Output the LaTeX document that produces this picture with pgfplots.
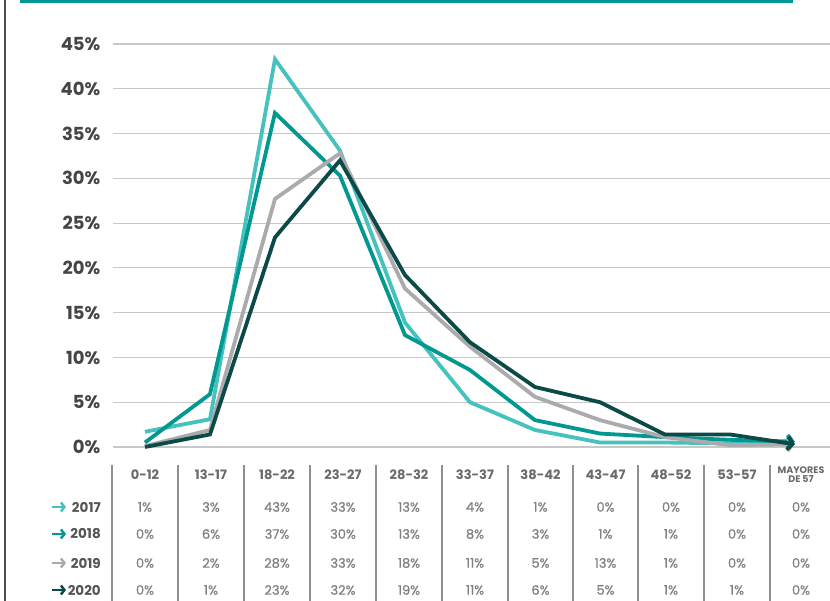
\documentclass[border=0pt]{standalone}
\usepackage{pgfplots}
\pgfplotsset{compat=1.18}
\usepackage{fontspec}
\setmainfont{Poppins}
\newfontfamily\valfont{Poppins}[FakeBold=0.8]
\usetikzlibrary{arrows.meta}
\definecolor{c17}{HTML}{45C1BE}
\definecolor{c18}{HTML}{009890}
\definecolor{c19}{HTML}{ABABAE}
\definecolor{c20}{HTML}{0C4A47}
\definecolor{topline}{HTML}{009890}
\definecolor{leftgray}{HTML}{4D4D4D}
\definecolor{gridgray}{HTML}{C8C8C8}
\definecolor{ticktext}{HTML}{454545}
\definecolor{headtext}{HTML}{6A6A6A}
\definecolor{valtext}{HTML}{808080}
\definecolor{yeartext}{HTML}{555555}
\definecolor{sepgray}{HTML}{8F8F8F}
\begin{document}
\begin{tikzpicture}
\path[use as bounding box] (0pt,0pt) rectangle (830pt,601pt);
\draw[line width=2.5pt, leftgray] (5pt,0pt) -- (5pt,601pt);
\draw[line width=3pt, topline] (20pt,599.5pt) -- (793pt,599.5pt);
\begin{axis}[
  at={(112.5pt,154pt)}, anchor=south west,
  scale only axis, width=717.5pt, height=403pt,
  xmin=-0.5, xmax=10.54, ymin=0, ymax=45,
  axis line style={draw=none},
  major tick length=0pt,
  xtick=\empty,
  ytick={0,5,10,15,20,25,30,35,40,45},
  yticklabels={0\%,5\%,10\%,15\%,20\%,25\%,30\%,35\%,40\%,45\%},
  yticklabel style={font=\bfseries\fontsize{18}{18}\selectfont, text=ticktext, inner sep=0pt, xshift=-12pt},
  ymajorgrids, grid style={gridgray, line width=1.2pt},
  clip=false,
  every axis plot/.append style={line width=3.8pt, -{Straight Barb[length=5pt,width=13pt]}},
]
\addplot[c17] coordinates {
(0,1.7) (1,3.1) (2,43.3) (3,33.1) (4,13.9) (5,5.0) (6,1.9) (7,0.5) (8,0.5) (9,0.4) (10,0.4)};
\addplot[c18] coordinates {
(0,0.5) (1,5.9) (2,37.3) (3,30.3) (4,12.5) (5,8.6) (6,3.0) (7,1.5) (8,1.1) (9,0.8) (10,0.6)};
\addplot[c19] coordinates {
(0,0.1) (1,1.9) (2,27.7) (3,32.8) (4,17.7) (5,11.2) (6,5.6) (7,3.0) (8,1.1) (9,0.2) (10,0.3)};
\addplot[c20] coordinates {
(0,0.0) (1,1.4) (2,23.4) (3,32.0) (4,19.2) (5,11.7) (6,6.7) (7,5.0) (8,1.4) (9,1.4) (10,0.3)};
\end{axis}
% table separators
\foreach \s in {112,178,244,310,376,442,508,573,638,704,770}
  \draw[sepgray, line width=1.2pt] (\s pt,136pt) -- (\s pt,0pt);
% headers
\foreach \x/\t in {145/0-12,211/13-17,277/18-22,343/23-27,409/28-32,475/33-37,540.5/38-42,605.5/43-47,671/48-52,737/53-57}
  \node[font=\bfseries\fontsize{13}{13}\selectfont, text=headtext, inner sep=0pt] at (\x pt,126pt) {\t};
\node[font=\bfseries\fontsize{9.5}{10}\selectfont, text=headtext, inner sep=0pt, align=center] at (801pt,126pt) {MAYORES\\[-1pt]DE 57};
% row labels
\foreach \y/\c/\t in {94/c17/2017,67/c18/2018,38/c19/2019,11/c20/2020}{
  \draw[\c, line width=2.5pt, -{Straight Barb[length=3.5pt,width=9pt]}] (52pt,\y pt) -- (66pt,\y pt);
  \node[font=\bfseries\fontsize{13.5}{13.5}\selectfont, text=yeartext, inner sep=0pt, anchor=east] at (101pt,\y pt) {\t};
}
% values
\foreach \x/\a/\b/\c/\d in {145/1/0/0/0,211/3/6/2/1,277/43/37/28/23,343/33/30/33/32,409/13/13/18/19,475/4/8/11/11,540.5/1/3/5/6,605.5/0/1/13/5,671/0/1/1/1,737/0/0/0/1,801/0/0/0/0}{
  \node[font=\valfont\fontsize{13}{13}\selectfont, text=valtext, inner sep=0pt] at (\x pt,94pt) {\a\%};
  \node[font=\valfont\fontsize{13}{13}\selectfont, text=valtext, inner sep=0pt] at (\x pt,67pt) {\b\%};
  \node[font=\valfont\fontsize{13}{13}\selectfont, text=valtext, inner sep=0pt] at (\x pt,38pt) {\c\%};
  \node[font=\valfont\fontsize{13}{13}\selectfont, text=valtext, inner sep=0pt] at (\x pt,11pt) {\d\%};
}
\end{tikzpicture}
\end{document}
